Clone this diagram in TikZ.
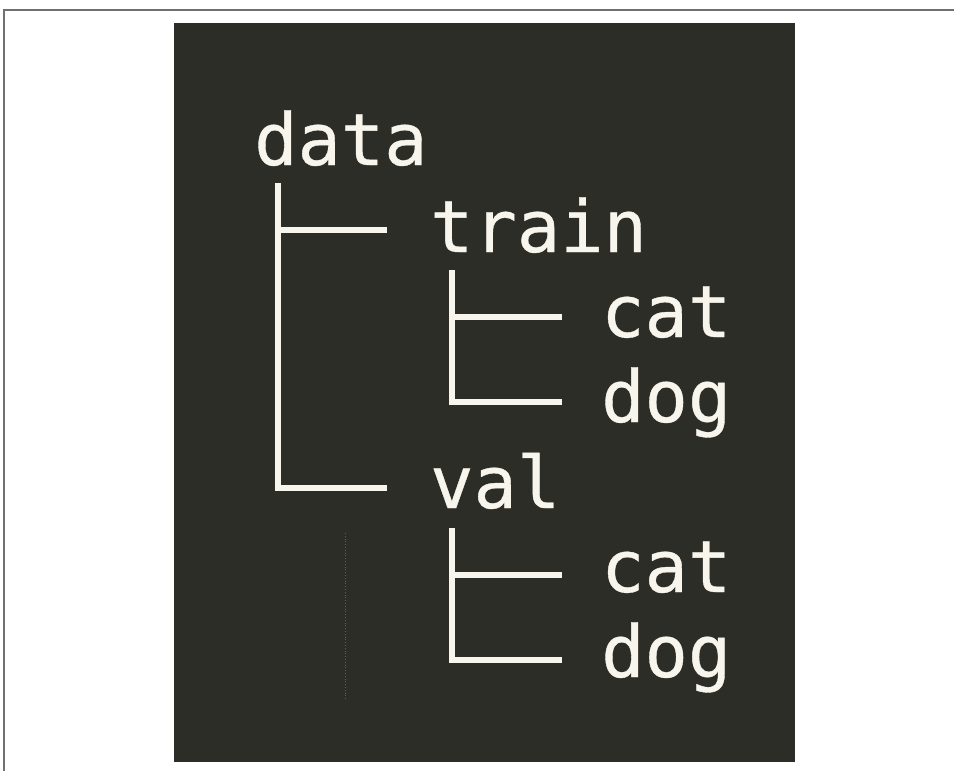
\documentclass[tikz,border=0pt]{standalone}
\usepackage{fontspec}
\setmonofont[FakeBold=0.5]{DejaVu Sans Mono}
\definecolor{panel}{HTML}{2D2D27}
\definecolor{ink}{HTML}{F7F5EC}
\definecolor{frame}{HTML}{707070}
\begin{document}
\begin{tikzpicture}[x=1pt,y=-1pt,
  label/.style={text=ink,inner sep=0pt,anchor=base west,
    font=\ttfamily\fontsize{72}{86}\selectfont},
  branch/.style={draw=ink,line width=6.5pt,line cap=butt,line join=miter}]
  % page and frame
  \fill[white] (0,0) rectangle (954,771);
  \useasboundingbox (0,0) rectangle (954,771);
  \draw[frame,line width=2pt] (4,771) -- (4,10) -- (954,10);
  % terminal panel
  \fill[panel] (174,23) rectangle (795,762);

  % directory names
  \node[label] (data)   at (254,165) {data};
  \node[label] (train)  at (430,252) {train};
  \node[label] (tcat)   at (601,337) {cat};
  \node[label] (tdog)   at (601,422) {dog};
  \node[label] (val)    at (430,508) {val};
  \node[label] (vcat)   at (601,592) {cat};
  \node[label] (vdog)   at (601,677) {dog};

  % branch anchors
  \coordinate (r0) at (278,183);
  \coordinate (e1) at (387,230);
  \coordinate (e2) at (387,488);
  \coordinate (r1) at (452,270);
  \coordinate (e3) at (562,317);
  \coordinate (e4) at (562,402);
  \coordinate (r2) at (452,528);
  \coordinate (e5) at (562,575);
  \coordinate (e6) at (562,660);

  % tree connectors
  \draw[branch] (r0) |- (e2);
  \draw[branch] (r0 |- e1) -- (e1);
  \draw[branch] (r1) |- (e4);
  \draw[branch] (r1 |- e3) -- (e3);
  \draw[branch] (r2) |- (e6);
  \draw[branch] (r2 |- e5) -- (e5);

  % faint guide line
  \draw[gray!60!panel,line width=0.8pt,dotted] (345,533) -- (345,700);
\end{tikzpicture}
\end{document}
